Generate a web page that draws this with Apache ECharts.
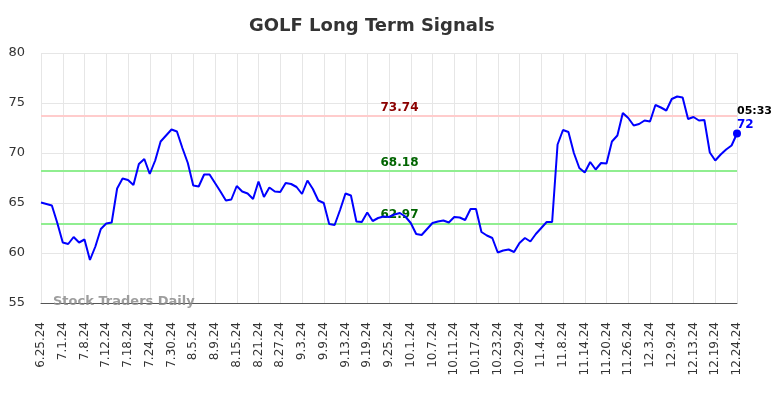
<!DOCTYPE html>
<html>
<head>
<meta charset="utf-8">
<script src="https://cdn.jsdelivr.net/npm/echarts@6/dist/echarts.min.js"></script>
<style>
html,body{margin:0;padding:0;background:#fff;}
#chart{width:784px;height:398px;}
</style>
</head>
<body>
<div id="chart"></div>
<script>
const chartTitle = 'GOLF Long Term Signals';
const tickLabels = ['6.25.24','7.1.24','7.8.24','7.12.24','7.18.24','7.24.24','7.30.24','8.5.24','8.9.24','8.15.24','8.21.24','8.27.24','9.3.24','9.9.24','9.13.24','9.19.24','9.25.24','10.1.24','10.7.24','10.11.24','10.17.24','10.23.24','10.29.24','11.4.24','11.8.24','11.14.24','11.20.24','11.26.24','12.3.24','12.9.24','12.13.24','12.19.24','12.24.24'];
const signalValues = [
65.05,64.9,64.75,63.0,61.05,60.9,61.6,61.05,61.35,59.3,
60.65,62.4,62.95,63.05,66.45,67.45,67.3,66.8,68.9,69.4,
67.9,69.25,71.15,71.75,72.35,72.15,70.5,69.0,66.75,66.65,
67.85,67.85,67.0,66.15,65.25,65.35,66.7,66.15,65.95,65.4,
67.15,65.6,66.55,66.15,66.1,67.0,66.9,66.6,65.9,67.25,
66.4,65.25,65.0,62.9,62.8,64.3,65.95,65.75,63.15,63.1,
64.05,63.2,63.5,63.65,63.6,63.85,64.0,63.65,63.0,61.9,
61.8,62.4,63.0,63.15,63.25,63.05,63.6,63.55,63.3,64.4,
64.4,62.1,61.75,61.5,60.05,60.25,60.35,60.1,61.0,61.5,
61.15,61.9,62.5,63.1,63.1,70.85,72.3,72.1,70.0,68.5,
68.05,69.1,68.35,69.0,68.95,71.15,71.75,74.0,73.5,72.75,
72.9,73.25,73.15,74.8,74.55,74.25,75.4,75.65,75.55,73.4,
73.6,73.25,73.3,70.05,69.25,69.85,70.35,70.75,71.95
];
const levelValues = [73.74, 68.18, 62.97];
const lastTime = '05:33';
const lastLabel = '72';
const watermark = 'Stock Traders Daily';

const levelLineColors = ['#ffcccc', '#90ee90', '#90ee90'];
const levelTextColors = ['#8b0000', '#006400', '#006400'];
const categories = signalValues.map((v, i) => (i % 4 === 0 ? tickLabels[i / 4] : ''));
const lastIdx = signalValues.length - 1;
const FONT = 'DejaVu Sans';

const chart = echarts.init(document.getElementById('chart'), null, {renderer: 'canvas'});
chart.setOption({
  animation: false,
  backgroundColor: '#ffffff',
  title: {
    text: chartTitle,
    left: 249,
    top: 17,
    padding: 0,
    textStyle: {fontFamily: FONT, fontSize: 18, fontWeight: 'bold', color: '#333333'}
  },
  grid: {left: 41, right: 47, top: 53, bottom: 95, containLabel: false},
  xAxis: {
    type: 'category',
    boundaryGap: false,
    data: categories,
    axisLine: {show: true, lineStyle: {color: '#555555', width: 1}},
    axisTick: {show: false},
    axisLabel: {
      interval: 3,
      rotate: 90,
      margin: 19,
      fontFamily: FONT,
      fontSize: 12,
      color: '#333333'
    },
    splitLine: {show: true, interval: 3, lineStyle: {color: '#e6e6e6', width: 1}}
  },
  yAxis: {
    type: 'value',
    min: 55,
    max: 80,
    interval: 5,
    axisLine: {show: false},
    axisTick: {show: false},
    axisLabel: {margin: 16, fontFamily: FONT, fontSize: 13, color: '#333333'},
    splitLine: {show: true, lineStyle: {color: '#e6e6e6', width: 1}}
  },
  graphic: [{
    type: 'text',
    left: 53,
    top: 295,
    z: 100,
    style: {
      text: watermark,
      fill: 'rgba(140,140,140,0.85)',
      font: 'bold 13px "DejaVu Sans"'
    }
  }],
  series: [{
    type: 'line',
    data: signalValues,
    symbol: 'none',
    lineStyle: {color: '#0000ff', width: 2},
    itemStyle: {color: '#0000ff'},
    z: 5,
    markLine: {
      silent: true,
      symbol: 'none',
      z: 3,
      data: levelValues.map((v, k) => ({
        yAxis: v,
        lineStyle: {color: levelLineColors[k], width: 2, type: 'solid'},
        label: {
          show: true,
          position: 'insideMiddleTop',
          formatter: v.toFixed(2),
          distance: 2,
          padding: [0, 0, 0, 21],
          color: levelTextColors[k],
          fontFamily: FONT,
          fontSize: 12,
          fontWeight: 'bold'
        }
      }))
    },
    markPoint: {
      silent: true,
      data: [{
        coord: [lastIdx, signalValues[lastIdx]],
        symbol: 'circle',
        symbolSize: 8,
        itemStyle: {color: '#0000ff'},
        label: {
          show: true,
          position: [4, -25],
          align: 'left',
          verticalAlign: 'top',
          formatter: '{t|' + lastTime + '}\n{v|' + lastLabel + '}',
          rich: {
            t: {fontFamily: FONT, fontSize: 11, fontWeight: 'bold', color: '#000000', lineHeight: 13},
            v: {fontFamily: FONT, fontSize: 12, fontWeight: 'bold', color: '#0000ff', lineHeight: 14}
          }
        }
      }]
    }
  }]
});
</script>
</body>
</html>
